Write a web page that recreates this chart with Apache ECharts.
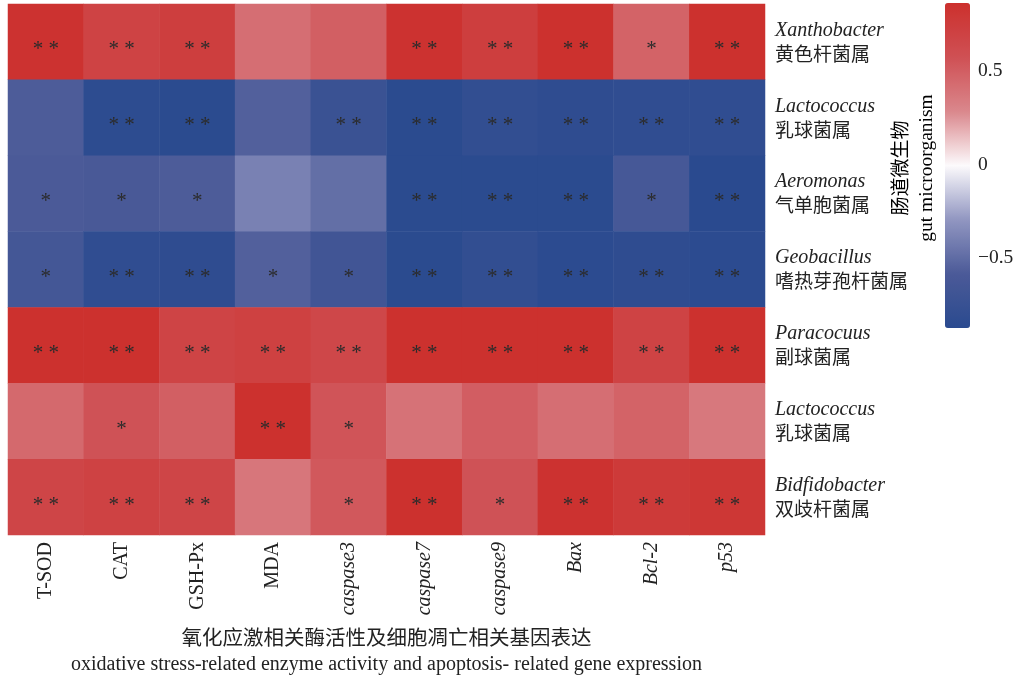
<!DOCTYPE html>
<html>
<head>
<meta charset="utf-8">
<style>
  html, body { margin: 0; padding: 0; background: #fff; }
  #chart { width: 1014px; height: 678px; }
</style>
<script src="https://cdn.jsdelivr.net/npm/echarts@6/dist/echarts.min.js"></script>
</head>
<body>
<div id="chart"></div>
<script>
// Measured indices along the bottom
const indicators = ['T-SOD', 'CAT', 'GSH-Px', 'MDA', 'caspase3', 'caspase7', 'caspase9', 'Bax', 'Bcl-2', 'p53'];
const italicIndicators = ['caspase3', 'caspase7', 'caspase9', 'Bax', 'Bcl-2', 'p53'];

// Gut microbial genera (Latin name, Chinese name), top to bottom
const generaLatin = ['Xanthobacter', 'Lactococcus', 'Aeromonas', 'Geobacillus', 'Paracocuus', 'Lactococcus', 'Bidfidobacter'];
const generaChinese = ['黄色杆菌属', '乳球菌属', '气单胞菌属', '嗜热芽孢杆菌属', '副球菌属', '乳球菌属', '双歧杆菌属'];

// Correlation coefficients, one array per genus (same order as indicators)
const rXanthobacter   = [0.83, 0.68, 0.72, 0.40, 0.48, 0.83, 0.72, 0.84, 0.46, 0.84];
const rLactococcusA   = [-0.59, -0.86, -0.88, -0.57, -0.75, -0.88, -0.82, -0.85, -0.84, -0.84];
const rAeromonas      = [-0.60, -0.62, -0.59, -0.41, -0.50, -0.88, -0.88, -0.88, -0.64, -0.89];
const rGeobacillus    = [-0.66, -0.84, -0.85, -0.57, -0.69, -0.88, -0.82, -0.87, -0.85, -0.87];
const rParacocuus     = [0.84, 0.84, 0.67, 0.70, 0.64, 0.84, 0.84, 0.84, 0.68, 0.84];
const rLactococcusB   = [0.43, 0.55, 0.48, 0.84, 0.54, 0.38, 0.49, 0.40, 0.46, 0.35];
const rBidfidobacter  = [0.66, 0.69, 0.66, 0.36, 0.52, 0.84, 0.55, 0.83, 0.76, 0.79];
const correlations = [rXanthobacter, rLactococcusA, rAeromonas, rGeobacillus, rParacocuus, rLactococcusB, rBidfidobacter];

// Significance marks (* P<0.05, ** P<0.01)
const sigXanthobacter  = ['**', '**', '**', '', '', '**', '**', '**', '*', '**'];
const sigLactococcusA  = ['', '**', '**', '', '**', '**', '**', '**', '**', '**'];
const sigAeromonas     = ['*', '*', '*', '', '', '**', '**', '**', '*', '**'];
const sigGeobacillus   = ['*', '**', '**', '*', '*', '**', '**', '**', '**', '**'];
const sigParacocuus    = ['**', '**', '**', '**', '**', '**', '**', '**', '**', '**'];
const sigLactococcusB  = ['', '*', '', '**', '*', '', '', '', '', ''];
const sigBidfidobacter = ['**', '**', '**', '', '*', '**', '*', '**', '**', '**'];
const significance = [sigXanthobacter, sigLactococcusA, sigAeromonas, sigGeobacillus, sigParacocuus, sigLactococcusB, sigBidfidobacter];

// Colour bar range, ticks and evenly spaced gradient stops (blue -> white -> red)
const scaleMin = -0.89;
const scaleMax = 0.85;
const colorTicks = [-0.5, 0, 0.5];
const gradientStops = ['#2a4a8f', '#4b5a98', '#9196c1', '#fcfafc', '#da878c', '#cf5054', '#cc302d'];

const rowLabels = generaLatin.map((n, i) => n + '\n' + generaChinese[i]);

const cells = [];
correlations.forEach((row, yi) => {
  row.forEach((v, xi) => {
    cells.push({ value: [xi, yi, v], mark: significance[yi][xi] });
  });
});

const serif = '"Liberation Serif", "Times New Roman", serif';
const cjk = '"Noto Sans CJK SC", sans-serif';

const chart = echarts.init(document.getElementById('chart'));
chart.setOption({
  backgroundColor: '#ffffff',
  animation: false,
  grid: [
    { left: 8, right: 249, top: 4, bottom: 143, outerBoundsMode: 'none' },
    { left: 945, top: 3, width: 25, height: 325, outerBoundsMode: 'none' }
  ],
  xAxis: [
    {
      type: 'category',
      gridIndex: 0,
      data: indicators,
      position: 'bottom',
      axisLine: { show: false },
      axisTick: { show: false },
      splitLine: { show: false },
      axisLabel: {
        rotate: 90,
        margin: 7,
        fontFamily: serif,
        fontSize: 20,
        color: '#222',
        formatter: v => italicIndicators.includes(v) ? '{i|' + v + '}' : '{n|' + v + '}',
        rich: {
          i: { fontFamily: serif, fontSize: 20, fontStyle: 'italic', color: '#222' },
          n: { fontFamily: serif, fontSize: 20, color: '#222' }
        }
      },
      name: '{c|氧化应激相关酶活性及细胞凋亡相关基因表达}\n{e|oxidative stress-related enzyme activity and apoptosis- related gene expression}',
      nameLocation: 'middle',
      nameGap: 89,
      nameTextStyle: {
        rich: {
          c: { fontFamily: cjk, fontSize: 20.5, color: '#222', lineHeight: 27, align: 'center' },
          e: { fontFamily: serif, fontSize: 20, color: '#222', lineHeight: 27, align: 'center' }
        }
      }
    },
    {
      type: 'value',
      gridIndex: 1,
      show: false,
      min: 0,
      max: 1
    }
  ],
  yAxis: [
    {
      type: 'category',
      gridIndex: 0,
      data: rowLabels,
      inverse: true,
      position: 'right',
      axisLine: { show: false },
      axisTick: { show: false },
      splitLine: { show: false },
      axisLabel: {
        margin: 10,
        align: 'left',
        formatter: v => {
          const parts = v.split('\n');
          return '{i|' + parts[0] + '}\n{c|' + parts[1] + '}';
        },
        rich: {
          i: { fontFamily: serif, fontSize: 20, fontStyle: 'italic', color: '#222', lineHeight: 23 },
          c: { fontFamily: cjk, fontSize: 19, color: '#222', lineHeight: 23 }
        }
      }
    },
    {
      type: 'value',
      gridIndex: 1,
      position: 'right',
      min: scaleMin,
      max: scaleMax,
      axisLine: { show: false },
      axisTick: { show: false },
      splitLine: { show: false },
      axisLabel: {
        customValues: colorTicks,
        margin: 8,
        formatter: v => '{t|' + (v < 0 ? '\u2212' + Math.abs(v) : String(v)) + '}',
        rich: {
          t: { fontFamily: serif, fontSize: 19.5, color: '#222', padding: [6, 0, 0, 0] }
        }
      }
    }
  ],
  visualMap: {
    type: 'continuous',
    seriesIndex: 0,
    min: scaleMin,
    max: scaleMax,
    orient: 'vertical',
    left: 945,
    top: 3,
    itemWidth: 25,
    itemHeight: 325,
    padding: 0,
    calculable: false,
    text: null,
    showLabel: false,
    inRange: { color: gradientStops }
  },
  graphic: [
    {
      type: 'text',
      x: 913,
      y: 168,
      rotation: Math.PI / 2,
      style: {
        text: '{c|肠道微生物}\n{e|gut microorganism}',
        align: 'center',
        verticalAlign: 'middle',
        rich: {
          c: { fontFamily: cjk, fontSize: 19, color: '#222', lineHeight: 27, align: 'center' },
          e: { fontFamily: serif, fontSize: 19.5, color: '#222', lineHeight: 27, align: 'center' }
        }
      }
    }
  ],
  series: [
    {
      type: 'heatmap',
      xAxisIndex: 0,
      yAxisIndex: 0,
      data: cells,
      itemStyle: { borderWidth: 0 },
      label: {
        show: true,
        formatter: p => p.data.mark.split('').join(' '),
        fontFamily: serif,
        fontSize: 21,
        color: '#2b2b2b',
        offset: [0, 8]
      },
      emphasis: { disabled: true }
    }
  ]
});
</script>
</body>
</html>
